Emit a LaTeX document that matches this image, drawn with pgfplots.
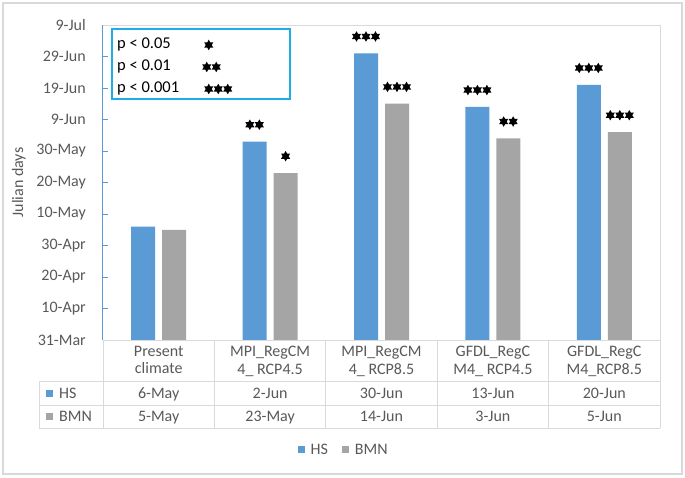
\documentclass[border=0pt]{standalone}
\usepackage{fontspec}
\setmainfont{Carlito}
\usepackage{pgfplots}
\pgfplotsset{compat=1.18}
\usetikzlibrary{shapes.geometric}

\definecolor{hsblue}{HTML}{5B9BD5}
\definecolor{bmngray}{HTML}{A5A5A5}
\definecolor{txtgray}{HTML}{595959}
\definecolor{linegray}{HTML}{D9D9D9}
\definecolor{boxblue}{HTML}{1FADE4}

% one filled six-pointed star, and a count 0..3 of them
\newcommand\st{\tikz[baseline=-3pt]\node[star, star points=6, star point ratio=1.75,
  fill=black, inner sep=0pt, minimum size=10.5pt]{};\hspace{0.4pt}}
\newcommand\sig[1]{\ifcase#1\relax\or \st\or \st\st\or \st\st\st\fi}

\begin{document}
\begin{tikzpicture}[x=1pt,y=1pt]
\fill[white] (0,0) rectangle (685,477);
\draw[linegray, line width=1.2pt] (3,3) rectangle (682,474);

\begin{axis}[
  at={(103pt,137pt)}, anchor=south west,
  scale only axis, width=557pt, height=315pt,
  xmin=-0.5, xmax=4.5, ymin=90, ymax=190,
  ybar=7pt, bar width=24pt,
  axis line style={draw=none},
  clip=false,
  xtick={0,...,4},
  xticklabels={Present\\climate, MPI\_RegCM\\4\_ RCP4.5, MPI\_RegCM\\4\_ RCP8.5,
    GFDL\_RegC\\M4\_ RCP4.5, GFDL\_RegC\\M4\_RCP8.5},
  xtick style={draw=none},
  xticklabel style={align=center, font=\fontsize{16}{17.5}\selectfont,
    text=txtgray, anchor=north, inner sep=0pt, yshift=-6pt},
  ytick={90,100,...,190},
  yticklabels={31-Mar,10-Apr,20-Apr,30-Apr,10-May,20-May,30-May,9-Jun,19-Jun,29-Jun,9-Jul},
  ytick pos=left, tick align=inside, major tick length=5pt,
  ytick style={hsblue, line width=0.8pt},
  yticklabel style={font=\fontsize{16}{16}\selectfont, text=txtgray,
    inner sep=0pt, xshift=-17pt},
  ylabel={Julian days},
  ylabel style={font=\fontsize{16}{16}\selectfont, text=txtgray,
    at={(axis description cs:-0.151,0.5)}, anchor=center},
  point meta=explicit symbolic,
  nodes near coords={\sig{\pgfplotspointmeta}},
  every node near coord/.append style={inner sep=0pt, yshift=8pt, text=black},
  legend style={at={(0.432,-0.349)}, anchor=center, legend columns=2, draw=none,
    font=\fontsize{16}{16}\selectfont, text=txtgray,
    /tikz/every even column/.append style={column sep=12pt}},
  legend image code/.code={\fill[#1] (0pt,-3pt) rectangle (7pt,4pt);},
]
\addplot[fill=hsblue, draw=none] table[meta=s] {
x y s
0 126 0
1 153 2
2 181 3
3 164 3
4 171 3
};
\addplot[fill=bmngray, draw=none] table[meta=s] {
x y s
0 125 0
1 143 1
2 165 3
3 154 2
4 156 3
};
\legend{\hspace{4pt}HS, \hspace{4pt}BMN}

\draw[linegray, line width=0.8pt] (rel axis cs:0,1) -- (rel axis cs:1,1) -- (rel axis cs:1,0) -- (rel axis cs:0,0);
\draw[hsblue, line width=1pt] (rel axis cs:0,0) -- (rel axis cs:0,1);
\end{axis}

% data table under the axis
\begin{scope}[linegray, line width=0.8pt]
  \draw (39,96) -- (660,96);
  \draw (39,72) -- (660,72);
  \draw (39,49) -- (660,49);
  \draw (39,96) -- (39,49);
  \draw (103,137) -- (103,49);
  \foreach \xx in {214.4,325.8,437.2,548.6,660} \draw (\xx,137) -- (\xx,49);
\end{scope}
\fill[hsblue] (46,80) rectangle (53,87);
\fill[bmngray] (46,57) rectangle (53,64);
\begin{scope}[font=\fontsize{16}{16}\selectfont, text=txtgray, inner sep=0pt]
  \node[anchor=base west] at (59,79) {HS};
  \node[anchor=base west] at (59,55.5) {BMN};
  \foreach \xx/\h/\b in {158.7/6-May/5-May, 270.1/2-Jun/23-May, 381.5/30-Jun/14-Jun,
      492.9/13-Jun/3-Jun, 604.3/20-Jun/5-Jun} {
    \node[anchor=base] at (\xx,79) {\h};
    \node[anchor=base] at (\xx,55.5) {\b};
  }
\end{scope}

% significance key
\draw[boxblue, line width=1.3pt, fill=white] (112,378) rectangle (290,448);
\begin{scope}[font=\fontsize{16.5}{16.5}\selectfont, inner sep=0pt]
  \node[anchor=west] at (117,433) {p < 0.05};
  \node[anchor=west] at (117,411) {p < 0.01};
  \node[anchor=west] at (117,389) {p < 0.001};
\end{scope}
\begin{scope}[inner sep=0pt]
  \node[anchor=west] at (204,432) {\sig{1}};
  \node[anchor=west] at (202,410) {\sig{2}};
  \node[anchor=west] at (204,388) {\sig{3}};
\end{scope}
\end{tikzpicture}
\end{document}
